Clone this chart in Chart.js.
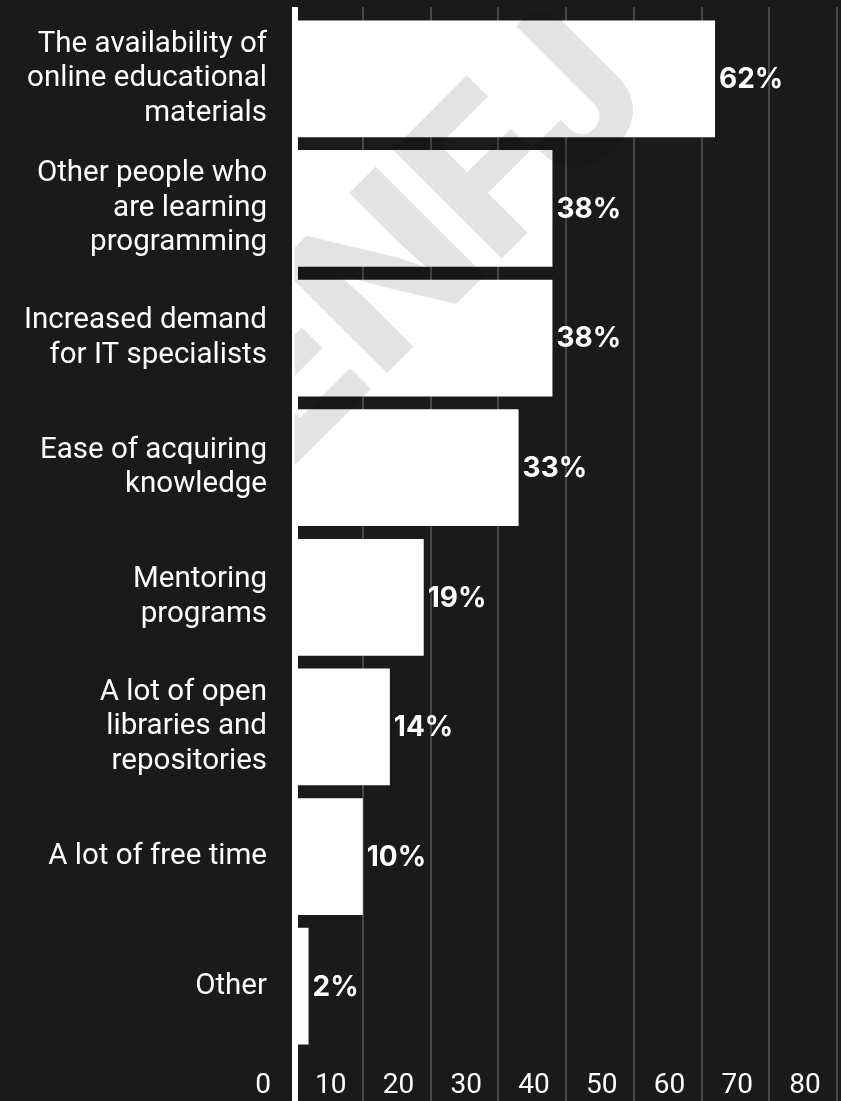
<!DOCTYPE html>
<html>
<head>
<meta charset="utf-8">
<script src="https://cdn.jsdelivr.net/npm/chart.js@4.4.1/dist/chart.umd.min.js"></script>
<style>
  html, body { margin: 0; padding: 0; background: #1a1a1a; }
  canvas { display: block; }
</style>
</head>
<body>
<canvas id="myChart" width="841" height="1101"></canvas>
<script>
const canvasArea = document.getElementById("myChart").getContext("2d");

const categories = [
  ["The availability of", "online educational", "materials"],
  ["Other people who", "are learning", "programming"],
  ["Increased demand", "for IT specialists"],
  ["Ease of acquiring", "knowledge"],
  ["Mentoring", "programs"],
  ["A lot of open", "libraries and", "repositories"],
  "A lot of free time",
  "Other",
];
const shares = [62, 38, 38, 33, 19, 14, 10, 2];
const axisMin = 0;
const axisMax = 80;
const axisStep = 10;

const gridColor = (c) => (c.tick && c.tick.value === 0 ? "#ffffff" : "#474747");
const gridWidth = (c) => (c.tick && c.tick.value === 0 ? 6 : 2);

// faint logo over the bars, then the percentage next to each bar
const barExtras = {
  id: "barExtras",
  afterDatasetsDraw(chart) {
    const ctx = chart.ctx;
    const area = chart.chartArea;
    ctx.save();
    ctx.beginPath();
    ctx.rect(area.left, area.top, area.right - area.left, area.bottom - area.top);
    ctx.clip();
    ctx.translate(428, 242);
    ctx.rotate(-Math.PI / 4);
    ctx.font = "800 212px Inter";
    ctx.fillStyle = "rgba(0,0,0,0.11)";
    ctx.textAlign = "center";
    ctx.textBaseline = "middle";
    ctx.fillText("ENFJ", 0, 0);
    ctx.restore();

    const meta = chart.getDatasetMeta(0);
    ctx.save();
    ctx.font = "bold 28px Inter";
    ctx.fillStyle = "#ffffff";
    ctx.textAlign = "left";
    ctx.textBaseline = "middle";
    meta.data.forEach((bar, i) => {
      ctx.fillText(shares[i] + "%", bar.x + 4, bar.y + 1);
    });
    ctx.restore();
  },
};

const data = {
  labels: categories,
  datasets: [
    {
      data: shares,
      backgroundColor: "#ffffff",
      borderWidth: 0,
      barPercentage: 0.9,
      categoryPercentage: 1,
    },
  ],
};

const config = {
  type: "bar",
  data: data,
  options: {
    indexAxis: "y",
    responsive: false,
    animation: false,
    layout: { padding: { top: 7, right: 4, bottom: 0, left: 0 } },
    plugins: {
      legend: { display: false },
      tooltip: { enabled: false },
    },
    scales: {
      x: {
        type: "linear",
        position: "bottom",
        min: axisMin,
        max: axisMax,
        border: { display: false },
        grid: { color: gridColor, lineWidth: gridWidth, tickLength: 50, drawTicks: true },
        ticks: {
          stepSize: axisStep,
          color: "#ffffff",
          font: { family: "Roboto", size: 28 },
          labelOffset: -32,
          padding: -32,
          maxRotation: 0,
          autoSkip: false,
        },
        afterFit(scale) {
          scale.height = 50;
          scale.paddingLeft = 0;
          scale.paddingRight = 0;
        },
      },
      xTop: {
        type: "linear",
        position: "top",
        min: axisMin,
        max: axisMax,
        border: { display: false },
        grid: { color: gridColor, lineWidth: gridWidth, tickLength: 7, drawOnChartArea: false },
        ticks: { stepSize: axisStep, display: false },
        afterFit(scale) {
          scale.height = 7;
        },
      },
      y: {
        border: { display: false },
        grid: { display: false, drawTicks: false },
        ticks: {
          color: "#ffffff",
          font: { family: "Roboto", size: 29.5, lineHeight: 1.17 },
          padding: 28,
        },
        afterFit(scale) {
          scale.width = 295;
          scale.paddingTop = 0;
          scale.paddingBottom = 0;
        },
      },
    },
  },
  plugins: [barExtras],
};

const myChart = new Chart(canvasArea, config);
</script>
</body>
</html>
